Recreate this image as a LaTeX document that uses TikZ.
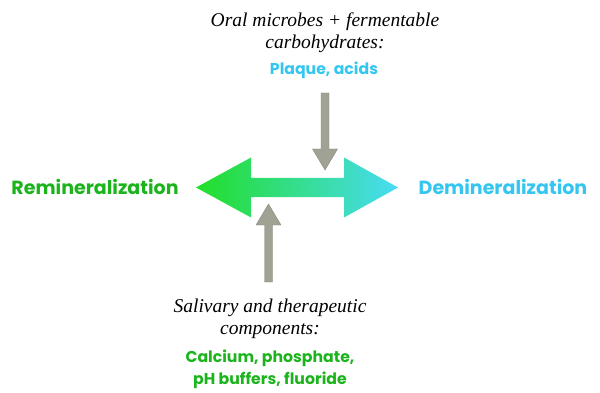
\documentclass[tikz,border=0pt]{standalone}
\usepackage{fontspec}
\setmainfont{Liberation Serif}
\newfontfamily\labelfont{Poppins}
\usetikzlibrary{arrows.meta}
\definecolor{remgreen}{RGB}{28,180,28}
\definecolor{demcyan}{RGB}{52,198,240}
\definecolor{arrgreen}{RGB}{34,222,40}
\definecolor{arrcyan}{RGB}{72,220,244}
\definecolor{pushgray}{RGB}{160,162,148}
\begin{document}
\begin{tikzpicture}[
        x=1pt, y=-1pt,
        every node/.style={inner sep=0pt, align=center},
        source/.style={font=\fontsize{19.5}{22}\selectfont\itshape},
        effect/.style={font=\fontsize{15.7}{22}\selectfont\labelfont\bfseries},
        state/.style={font=\fontsize{19}{20}\selectfont\labelfont\bfseries},
        push/.style={draw=pushgray!85!black, fill=pushgray, line width=0.4pt},
    ]
    \useasboundingbox (0,0) rectangle (600,393);

    % texts
    \node[source](microbes) at (325,32.5){Oral microbes + fermentable\\carbohydrates:};
    \node[effect, text=demcyan](plaque) at (324,70){Plaque, acids};
    \node[state, text=remgreen](remin) at (95,187){Remineralization};
    \node[state, text=demcyan](demin) at (503,187){Demineralization};
    \node[source](saliva) at (270,319){Salivary and therapeutic\\components:};
    \node[effect, text=remgreen](calcium) at (270,369.5){Calcium, phosphate,\\pH buffers, fluoride};

    % balance arrow
    \shade[left color=arrgreen, right color=arrcyan]
        (196,187.5) -- (251,157.5) -- (251,178) -- (344,178) -- (344,157.5)
        -- (398,187.5) -- (344,217.5) -- (344,197) -- (251,197) -- (251,217.5) -- cycle;

    % pushing arrows
    \coordinate (downtip) at (325,170);
    \coordinate (uptip) at (268.5,204);
    \filldraw[push] (321,93) -- (329,93) -- (329,149) -- (337.5,149) -- (downtip)
        -- (312.5,149) -- (321,149) -- cycle;
    \filldraw[push] (264.5,282) -- (272.5,282) -- (272.5,225) -- (281,225) -- (uptip)
        -- (256,225) -- (264.5,225) -- cycle;

\end{tikzpicture}
\end{document}
